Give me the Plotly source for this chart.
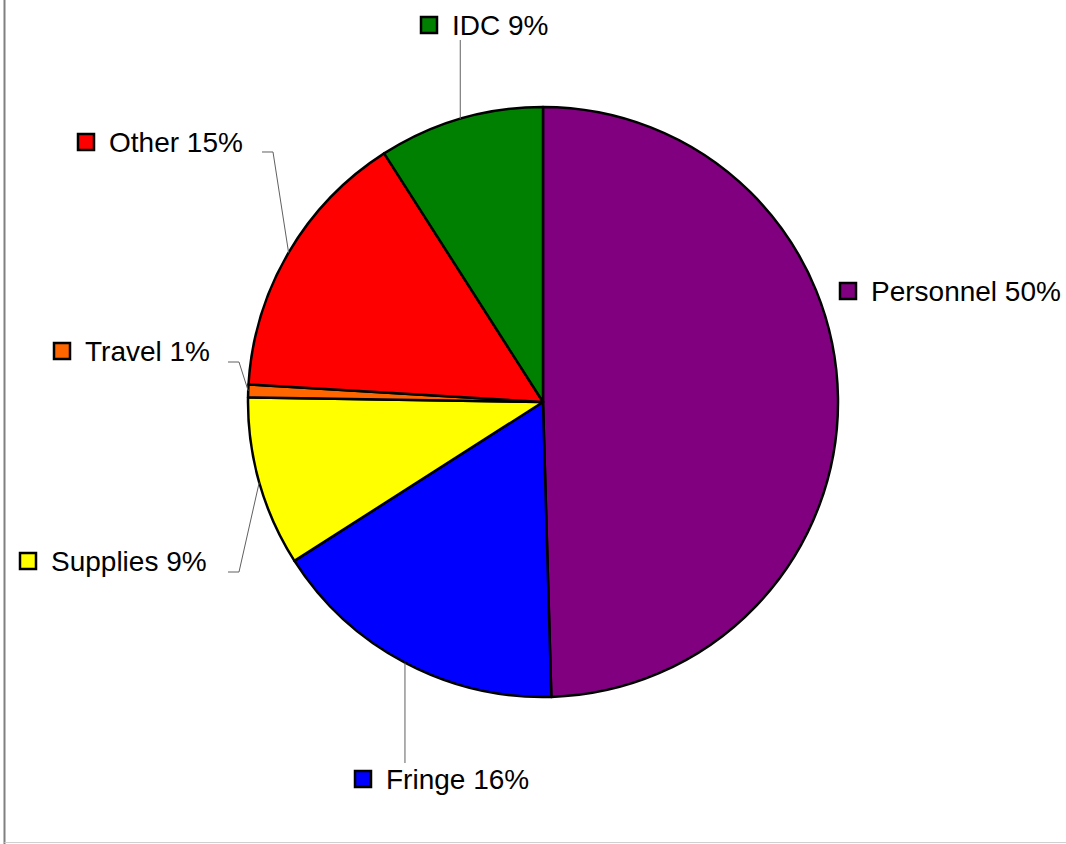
import math
import plotly.graph_objects as go

# ---------------- data ----------------
categories = ["Personnel", "Fringe", "Supplies", "Travel", "Other", "IDC"]
values = [49.55, 16.4, 9.3, 0.7, 15.0, 9.05]

# ---------------- style ----------------
colors = ["#800080", "#0000FF", "#FFFF00", "#FF6600", "#FF0000", "#008000"]
W, H = 1066, 844
CX, CY, R = 543, 402, 295  # pie centre / radius in pixels
FONT = "Liberation Sans, Arial, sans-serif"
FONT_SIZE = 28
SQ = 16       # legend-key square size
GAP = 13      # gap between square and text

# per label: square left x, centre y, leader end point and optional elbow (pixels)
label_style = {
    "Personnel": dict(x=840, y=291, end=None, elbow=None),
    "Fringe":    dict(x=355, y=779, end=(None, 763), elbow=None),
    "Supplies":  dict(x=20,  y=561, end=(228, 572), elbow=(239, 572)),
    "Travel":    dict(x=54,  y=351, end=(228, 362), elbow=(239, 362)),
    "Other":     dict(x=78,  y=142, end=(262, 152), elbow=(273, 152)),
    "IDC":       dict(x=421, y=25,  end=(None, 40), elbow=None),
}


def px(x):
    return x / W


def py(y):
    return 1 - y / H


fig = go.Figure(
    go.Pie(
        labels=categories,
        values=values,
        sort=False,
        direction="clockwise",
        rotation=0,
        textinfo="none",
        hoverinfo="label+percent",
        marker=dict(colors=colors, line=dict(color="#000000", width=2.5)),
        domain=dict(x=[px(CX - R), px(CX + R)], y=[py(CY + R), py(CY - R)]),
        showlegend=False,
    )
)

total = sum(values)
shapes = []
annotations = []
cum = 0.0
for cat, val, col in zip(categories, values, colors):
    start = cum / total * 360
    cum += val
    end_a = cum / total * 360
    mid = math.radians((start + end_a) / 2)
    ex = CX + R * math.sin(mid)
    ey = CY - R * math.cos(mid)
    st = label_style[cat]
    pct = round(val / total * 100)

    # legend-key square
    shapes.append(dict(
        type="rect", xref="paper", yref="paper",
        x0=px(st["x"]), x1=px(st["x"] + SQ),
        y0=py(st["y"] - SQ / 2), y1=py(st["y"] + SQ / 2),
        fillcolor=col, line=dict(color="#000000", width=2.5),
    ))
    annotations.append(dict(
        x=px(st["x"] + SQ + GAP), y=py(st["y"]), xref="paper", yref="paper",
        xanchor="left", yanchor="middle", showarrow=False,
        text=f"{cat} {pct}%",
        font=dict(family=FONT, size=FONT_SIZE, color="#000000"),
    ))

    # leader line
    if st["end"] is not None:
        endx = st["end"][0] if st["end"][0] is not None else ex
        endy = st["end"][1]
        pts = [(ex, ey)]
        if st["elbow"] is not None:
            pts.append(st["elbow"])
        pts.append((endx, endy))
        path = "M " + " L ".join(f"{px(a):.5f},{py(b):.5f}" for a, b in pts)
        shapes.append(dict(type="path", xref="paper", yref="paper", path=path,
                           line=dict(color="#606060", width=1)))

# chart border (left and bottom edges visible in the reference)
shapes.append(dict(type="line", xref="paper", yref="paper",
                   x0=px(4.5), x1=px(4.5), y0=0, y1=1,
                   line=dict(color="#808080", width=2)))
shapes.append(dict(type="line", xref="paper", yref="paper",
                   x0=px(4.5), x1=1, y0=py(842.5), y1=py(842.5),
                   line=dict(color="#d0d0d0", width=1)))

fig.update_layout(
    width=W, height=H,
    margin=dict(l=0, r=0, t=0, b=0, pad=0),
    paper_bgcolor="#FFFFFF",
    plot_bgcolor="#FFFFFF",
    shapes=shapes,
    annotations=annotations,
)

fig.write_html(
    "out.html",
    config={"displayModeBar": False},
    post_script="document.body.style.margin='0';document.body.style.overflow='hidden';",
)
